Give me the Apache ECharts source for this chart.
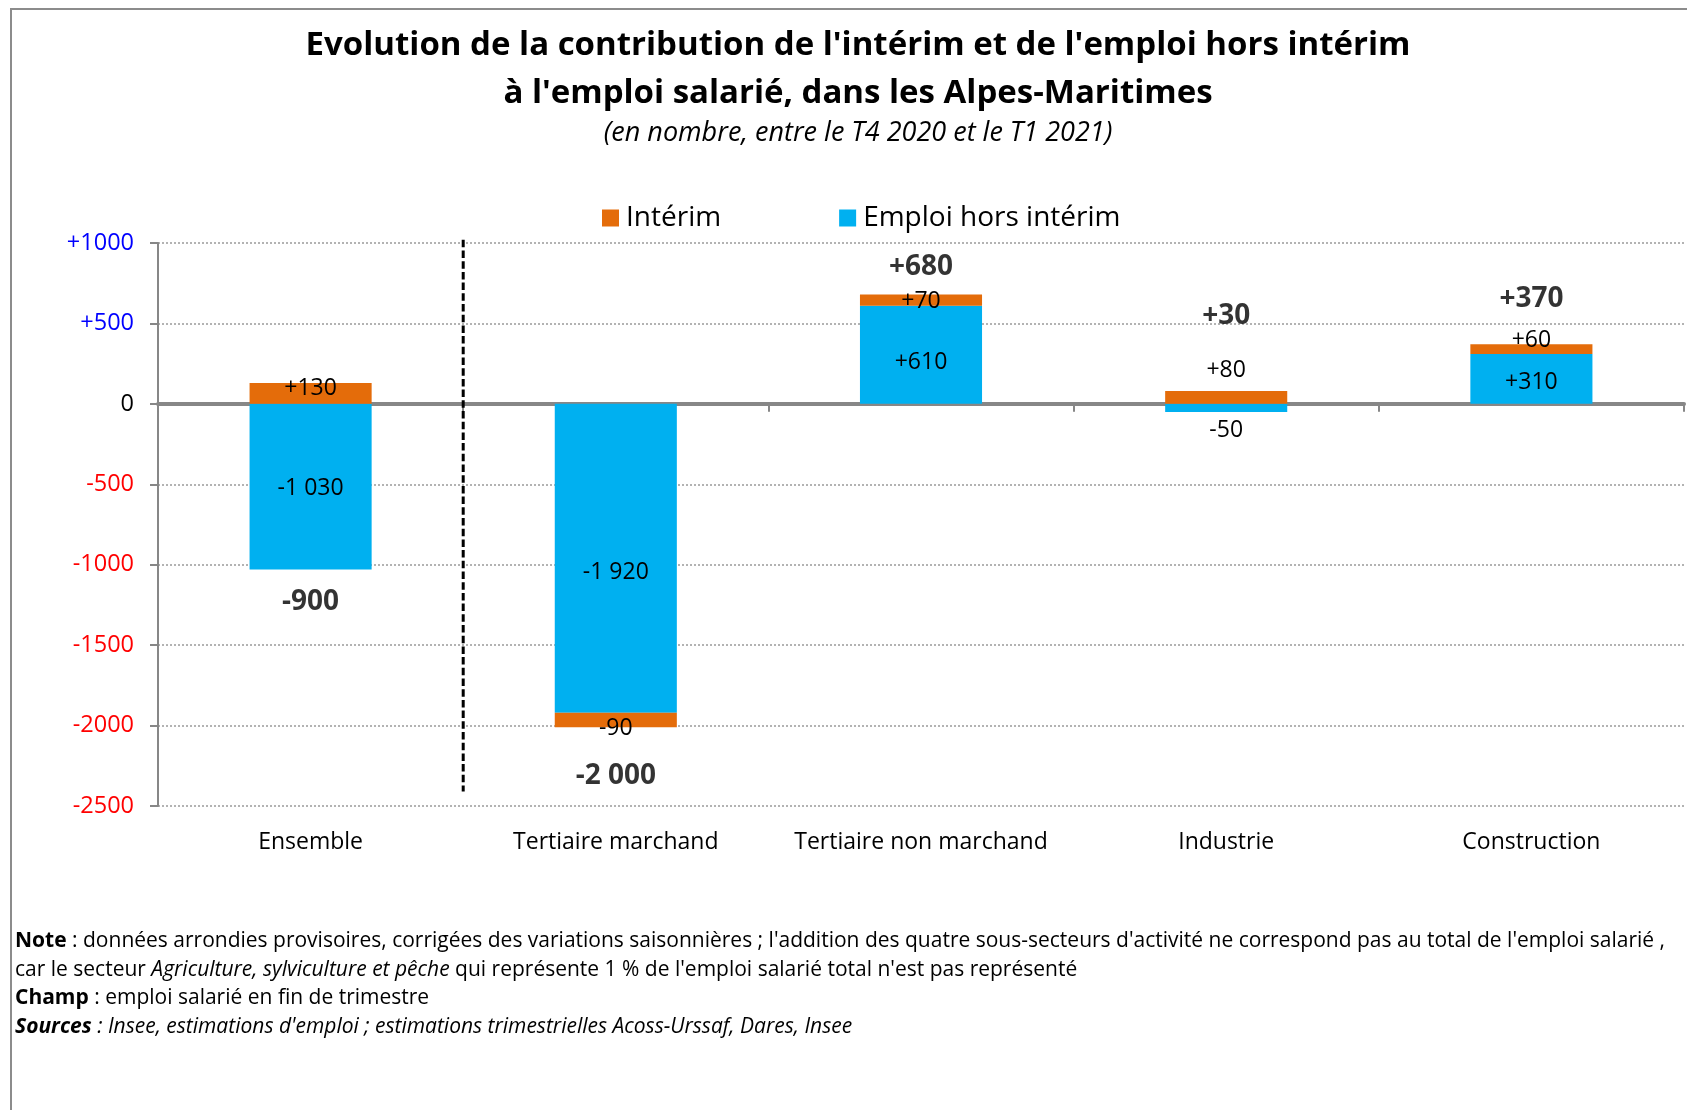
<!DOCTYPE html>
<html>
<head>
<meta charset="utf-8">
<script src="https://cdn.jsdelivr.net/npm/echarts@6/dist/echarts.min.js"></script>
<style>
  html, body { margin: 0; padding: 0; background: #fff; }
  #main { width: 1687px; height: 1110px; }
</style>
</head>
<body>
<div id="main"></div>
<script>
// catégories et valeurs (T4 2020 -> T1 2021)
var categories = ['Ensemble', 'Tertiaire marchand', 'Tertiaire non marchand', 'Industrie', 'Construction'];
var horsInterim = [-1030, -1920, 610, -50, 310];
var interim = [130, -90, 70, 80, 60];
var totals = [-900, -2000, 680, 30, 370];
var yTicks = [-2500, -2000, -1500, -1000, -500, 0, 500, 1000];
// séparateur entre "Ensemble" et les secteurs
var separatorAt = 1;

// placement des étiquettes (px)
var horsShift = [2, 14, 8, 7, 4];
var interimGap = [-17, -10, -18, 9, -8];
var totalGap = [18, 35, 13, 61, 31];

var FONT = '"Open Sans", "Noto Sans", sans-serif';

function fmt(v, plus) {
  var s = String(Math.abs(v)).replace(/\B(?=(\d{3})+(?!\d))/g, ' ');
  if (v < 0) return '-' + s;
  if (v > 0 && plus) return '+' + s;
  return s;
}

// bout de la pile dans le sens du total
function stackEnd(i) {
  var pos = 0, neg = 0;
  [horsInterim[i], interim[i]].forEach(function (v) { if (v >= 0) pos += v; else neg += v; });
  return totals[i] >= 0 ? pos : neg;
}

var horsData = horsInterim.map(function (v, i) {
  var small = Math.abs(v) < 100;
  return {
    value: v,
    label: small ? { position: v < 0 ? 'bottom' : 'top', distance: horsShift[i] }
                 : { position: 'inside', offset: [0, horsShift[i]] }
  };
});

var interimData = interim.map(function (v, i) {
  return {
    value: v,
    label: { position: v < 0 ? 'bottom' : 'top', distance: interimGap[i] }
  };
});

var totalData = totals.map(function (v, i) {
  return {
    value: [i, stackEnd(i)],
    total: v,
    label: { position: v < 0 ? 'bottom' : 'top', distance: totalGap[i] }
  };
});

var myChart = echarts.init(document.getElementById('main'));

var option = {
  animation: false,
  backgroundColor: '#fff',
  textStyle: { fontFamily: FONT },
  title: [
    {
      text: "Evolution de la contribution de l'intérim et de l'emploi hors intérim\nà l'emploi salarié, dans les Alpes-Maritimes",
      left: 853, top: 17, textAlign: 'center',
      textStyle: { fontFamily: FONT, fontSize: 33, fontWeight: 'bold', color: '#000', lineHeight: 48 }
    },
    {
      text: '(en nombre, entre le T4 2020 et le T1 2021)',
      left: 853, top: 115, textAlign: 'center',
      textStyle: { fontFamily: FONT, fontSize: 27, fontStyle: 'italic', fontWeight: 'normal', color: '#000' }
    }
  ],
  legend: {
    data: ['Intérim', 'Emploi hors intérim'],
    left: 597, top: 199,
    icon: 'rect', itemWidth: 17, itemHeight: 17, itemGap: 118,
    textStyle: { fontFamily: FONT, fontSize: 28, color: '#000', padding: [0, 0, 0, 2] }
  },
  grid: { left: 158, right: 3, top: 243, bottom: 304, containLabel: false },
  xAxis: [
    {
      type: 'category', data: categories,
      axisLine: { onZero: true, lineStyle: { color: '#878787', width: 4 } },
      axisTick: { show: true, length: 8, lineStyle: { color: '#878787', width: 2 } },
      axisLabel: { show: false }
    },
    {
      type: 'category', data: categories, position: 'bottom',
      axisLine: { show: false, onZero: false },
      axisTick: { show: false },
      axisLabel: { fontFamily: FONT, fontSize: 23, color: '#000', margin: 25, interval: 0 }
    },
    { type: 'value', min: 0, max: 5, show: false, position: 'top' }
  ],
  yAxis: {
    type: 'value', min: -2500, max: 1000, interval: 500,
    axisLine: { show: true, lineStyle: { color: '#878787', width: 2 } },
    axisTick: { show: true, length: 8, lineStyle: { color: '#878787', width: 2 } },
    axisLabel: {
      fontFamily: FONT, fontSize: 23.5, margin: 24,
      formatter: function (v) { return yTicks.indexOf(v) >= 0 ? (v > 0 ? '+' + v : String(v)) : ''; },
      color: function (v) { v = Number(v); return v > 0 ? '#0000ff' : (v < 0 ? '#ff0000' : '#000'); }
    },
    splitLine: { show: true, lineStyle: { color: '#9a9a9a', type: [2, 2], width: 1.5 } }
  },
  series: [
    {
      name: 'Emploi hors intérim', type: 'bar', stack: 'total', xAxisIndex: 0,
      barWidth: '40%', data: horsData,
      itemStyle: { color: '#00b0f0' },
      label: {
        show: true, fontFamily: FONT, fontSize: 23, color: '#000',
        formatter: function (p) { return fmt(p.value, true); }
      }
    },
    {
      name: 'Intérim', type: 'bar', stack: 'total', xAxisIndex: 0,
      barWidth: '40%', data: interimData,
      itemStyle: { color: '#e46c0a' },
      label: {
        show: true, fontFamily: FONT, fontSize: 23, color: '#000',
        formatter: function (p) { return fmt(p.value, true); }
      }
    },
    {
      name: 'total', type: 'scatter', xAxisIndex: 0, symbolSize: 0,
      data: totalData, z: 5,
      label: {
        show: true, fontFamily: FONT, fontSize: 28, fontWeight: 'bold', color: '#000',
        formatter: function (p) { return fmt(p.data.total, true); }
      }
    },
    {
      name: 'separateur', type: 'line', xAxisIndex: 2, clip: false,
      symbol: 'none', silent: true, z: 4,
      lineStyle: { color: '#000', type: [7.5, 3.2], width: 3 },
      data: [[separatorAt, 1020], [separatorAt, -2410]]
    }
  ],
  graphic: [
    {
      type: 'rect', silent: true, z: -1,
      shape: { x: 11, y: 9, width: 1700, height: 1200 },
      style: { fill: 'none', stroke: '#8c8c8c', lineWidth: 2 }
    },
    {
      type: 'text', left: 15, top: 927,
      style: {
        text: "{b|Note} : données arrondies provisoires, corrigées des variations saisonnières ; l'addition des quatre sous-secteurs d'activité ne correspond pas au total de l'emploi salarié ,\n" +
              "car le secteur {i|Agriculture, sylviculture et pêche} qui représente 1 % de l'emploi salarié total n'est pas représenté\n" +
              "{b|Champ} : emploi salarié en fin de trimestre\n" +
              "{bi|Sources}{i| : Insee, estimations d'emploi ; estimations trimestrielles Acoss-Urssaf, Dares, Insee}",
        font: '21px ' + FONT, fill: '#000', lineHeight: 28.5,
        rich: {
          b: { fontWeight: 'bold', fontSize: 21, fontFamily: FONT, lineHeight: 28.5 },
          i: { fontStyle: 'italic', fontSize: 21, fontFamily: FONT, lineHeight: 28.5 },
          bi: { fontStyle: 'italic', fontWeight: 'bold', fontSize: 21, fontFamily: FONT, lineHeight: 28.5 }
        }
      }
    }
  ]
};

myChart.setOption(option);
</script>
</body>
</html>
